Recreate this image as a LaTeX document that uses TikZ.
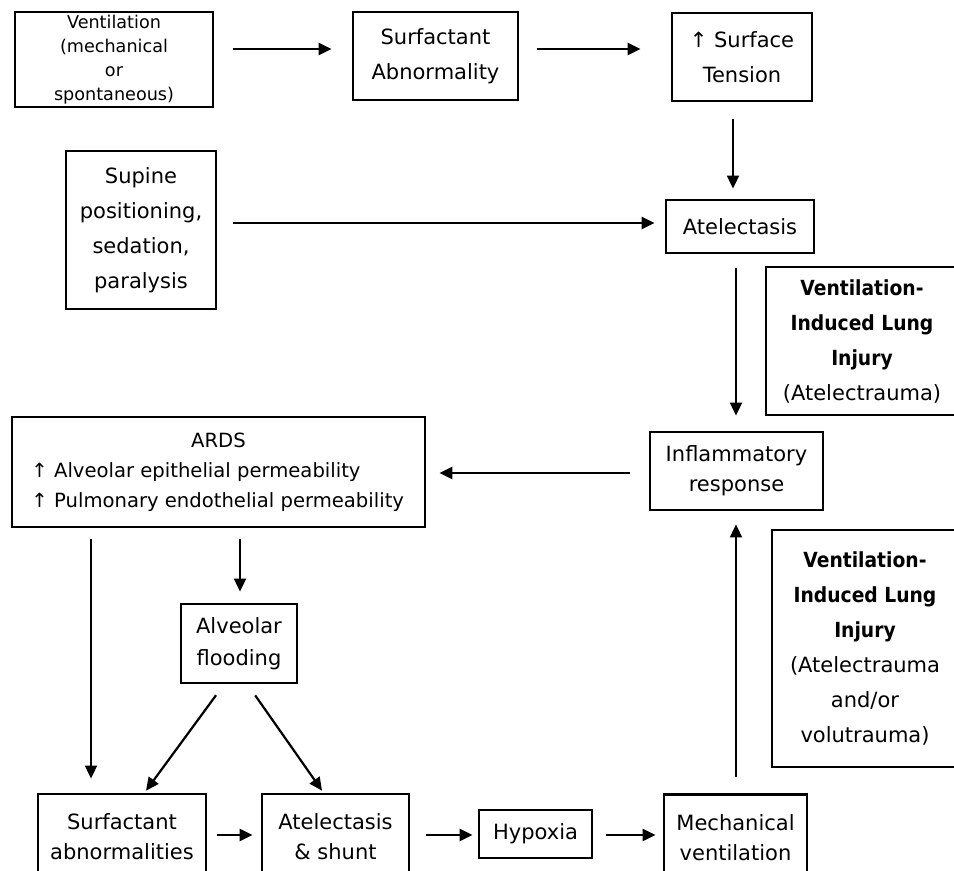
\documentclass[tikz,border=0pt]{standalone}
\usepackage{fontspec}
\setmainfont{DejaVu Sans}
\newfontfamily\vilifont{DejaVu Sans Condensed}
\usetikzlibrary{arrows.meta}
\tikzset{
  box/.style={draw, line width=1.4pt, align=center, inner sep=0pt, font=\fontsize{10.5}{17.5}\selectfont},
  tightbox/.style={box, font=\fontsize{10.5}{15}\selectfont},
  smallbox/.style={box, font=\fontsize{8.8}{12}\selectfont},
  flow/.style={-{Triangle[length=6.5pt,width=6pt]}, line width=1.3pt},
  thinflow/.style={flow, line width=0.9pt},
  slantflow/.style={flow, line width=1.1pt}
}
\newcommand{\vili}[1]{{\vilifont\bfseries\fontsize{10.4}{17.5}\selectfont #1}}
\newcommand{\ardsline}[1]{\makebox[187pt][l]{#1}}

\begin{document}
\begin{tikzpicture}[x=0.5pt, y=-0.5pt]
        \useasboundingbox (0,0) rectangle (954,871);
        % top row
        \node[smallbox, minimum width=99pt, minimum height=47.5pt] (vent) at (114,59.5) {Ventilation\\(mechanical\\or\\spontaneous)};
        \node[box, minimum width=82.5pt, minimum height=44pt] (surfab) at (435.5,56) {Surfactant\\Abnormality};
        \node[box, minimum width=70pt, minimum height=44pt] (tension) at (742,57) {↑ Surface\\Tension};
        \node[box, minimum width=75pt, minimum height=79pt] (supine) at (141,230) {Supine\\positioning,\\sedation,\\paralysis};
        \node[box, minimum width=74pt, minimum height=26.5pt] (atel) at (740,226.5) {Atelectasis};
        \node[box, minimum width=96pt, minimum height=74pt] (vili) at (862,341) {\vili{Ventilation-}\\\vili{Induced Lung}\\\vili{Injury}\\(Atelectrauma)};
        % middle
        \node[tightbox, font=\fontsize{9.8}{15}\selectfont, minimum width=206.5pt, minimum height=55pt] (ards) at (218.5,472) {ARDS\\\ardsline{↑ Alveolar epithelial permeability}\\\ardsline{↑ Pulmonary endothelial permeability}};
        \node[tightbox, minimum width=86.5pt, minimum height=39pt] (inflam) at (736.5,471) {Inflammatory\\response};
        \node[box, font=\fontsize{10.5}{16}\selectfont, minimum width=58pt, minimum height=39.5pt] (flood) at (239,643.5) {Alveolar\\flooding};
        \node[box, minimum width=93pt, minimum height=118.5pt] (vilitwo) at (865,648.5) {\vili{Ventilation-}\\\vili{Induced Lung}\\\vili{Injury}\\(Atelectrauma\\and/or\\volutrauma)};
        % bottom row
        \node[tightbox, minimum width=84pt, minimum height=43pt] (surfabn) at (122,837) {Surfactant\\abnormalities};
        \node[tightbox, minimum width=73.5pt, minimum height=43pt] (shunt) at (335.5,837) {Atelectasis\\\& shunt};
        \node[box, minimum width=56.5pt, minimum height=24pt] (hypoxia) at (535.5,834) {Hypoxia};
        \node[tightbox, minimum width=71.5pt, minimum height=43pt] (mech) at (735.5,837.5) {Mechanical\\ventilation};
        % arrows
        \draw[flow, shorten <=9.5pt, shorten >=10pt] (vent.east |- 0,49) -- (surfab.west |- 0,49);
        \draw[flow, shorten <=9pt, shorten >=15pt] (surfab.east |- 0,49) -- (tension.west |- 0,49);
        \draw[thinflow, shorten <=8.5pt, shorten >=5pt] (tension.south -| 733,0) -- (atel.north -| 733,0);
        \draw[flow, shorten <=8pt, shorten >=5pt] (supine.east |- 0,223) -- (atel.west |- 0,223);
        \draw[thinflow, shorten <=7pt, shorten >=7.5pt] (atel.south -| 736,0) -- (inflam.north -| 736,0);
        \draw[flow, shorten <=9.5pt, shorten >=6.5pt] (inflam.west |- 0,473) -- (ards.east |- 0,473);
        \draw[thinflow, shorten <=5.5pt, shorten >=7pt] (ards.south -| 91,0) -- (surfabn.north -| 91,0);
        \draw[thinflow, shorten <=5.5pt, shorten >=5.5pt] (ards.south -| 240,0) -- (flood.north -| 240,0);
        \draw[slantflow, shorten <=6.7pt, shorten >=1.2pt] (flood.south -| 224,0) -- (surfabn.north -| 144.6,0);
        \draw[slantflow, shorten <=6.7pt, shorten >=1.2pt] (flood.south -| 247.5,0) -- (shunt.north -| 323.4,0);
        \draw[flow, shorten <=5pt, shorten >=4pt] (surfabn.east |- 0,835) -- (shunt.west |- 0,835);
        \draw[flow, shorten <=8pt, shorten >=2.5pt] (shunt.east |- 0,835) -- (hypoxia.west |- 0,835);
        \draw[flow, shorten <=6.5pt, shorten >=3.5pt] (hypoxia.east |- 0,835) -- (mech.west |- 0,835);
        \draw[thinflow, shorten <=8pt, shorten >=6.5pt] (mech.north -| 736,0) -- (inflam.south -| 736,0);
      \end{tikzpicture}
\end{document}
